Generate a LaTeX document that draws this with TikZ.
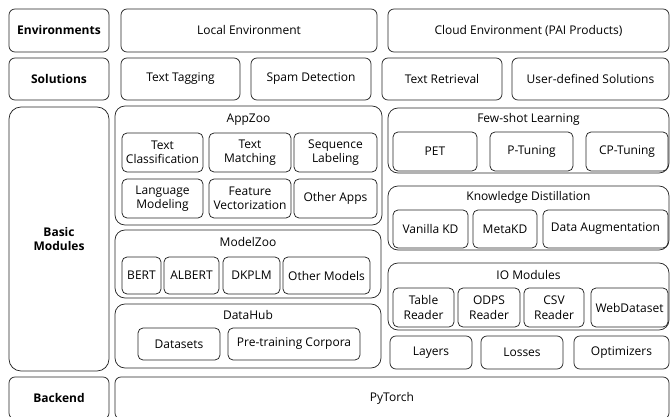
\documentclass[tikz,border=0pt]{standalone}
\usepackage{fontspec}
\setmainfont{Open Sans}
\newcommand\fs{\fontsize{12}{14.5}\selectfont}
\tikzset{
  box/.style={draw=black!85, line width=0.75pt, rounded corners=6pt, inner sep=0pt, align=center, font=\fs},
  inbox/.style={box, rounded corners=5pt},
  grp/.style={box, rounded corners=10pt},
  hdr/.style={box, font=\fs\bfseries},
  lbl/.style={font=\fs, inner sep=0pt},
}
% \bx[style]{name}{x1}{y1}{x2}{y2}{text}
\newcommand\bx[7][box]{%
  \pgfmathsetmacro\bxw{#5-#3}\pgfmathsetmacro\bxh{#6-#4}%
  \pgfmathsetmacro\bxcx{(#3+#5)/2}\pgfmathsetmacro\bxcy{(#4+#6)/2}%
  \node[#1, minimum width=\bxw pt, minimum height=\bxh pt] (#2) at (\bxcx,\bxcy) {#7};}
\begin{document}
\begin{tikzpicture}[x=1pt,y=-1pt]
\useasboundingbox (0,0) rectangle (670,417);
% rows
\bx[hdr]{env}{9}{9}{109}{52}{Environments}
\bx{local}{121}{9}{377}{52}{Local Environment}
\bx{cloud}{388}{9}{669}{52}{Cloud Environment (PAI Products)}
\bx[hdr]{sol}{9}{58}{109}{100}{Solutions}
\bx{tag}{121}{58}{240}{100}{Text Tagging}
\bx{spam}{251}{58}{371}{100}{Spam Detection}
\bx{retr}{382}{58}{502}{100}{Text Retrieval}
\bx{user}{512}{58}{669}{100}{User-defined Solutions}
\bx[hdr, rounded corners=12pt]{basic}{9}{107}{109}{371}{Basic\\Modules}
% AppZoo
\bx[grp]{appzoo}{115}{106}{382}{225}{}
\node[lbl] (appzoolbl) at (248.5,120) {AppZoo};
\bx[inbox]{tc}{122}{133}{203}{172}{Text\\Classification}
\bx[inbox]{tm}{209}{133}{291}{172}{Text\\Matching}
\bx[inbox]{sl}{294}{133}{377}{172}{Sequence\\Labeling}
\bx[inbox]{lm}{122}{179}{203}{218}{Language\\Modeling}
\bx[inbox]{fv}{209}{179}{291}{218}{Feature\\Vectorization}
\bx[inbox]{oa}{294}{179}{377}{218}{Other Apps}
% ModelZoo
\bx[grp]{modelzoo}{115}{230}{381}{298}{}
\node[lbl] (modelzoolbl) at (248,242) {ModelZoo};
\bx[inbox]{bert}{122}{257}{161}{294}{BERT}
\bx[inbox]{albert}{164}{257}{219}{294}{ALBERT}
\bx[inbox]{dkplm}{223}{257}{280}{294}{DKPLM}
\bx[inbox]{om}{283}{257}{370}{294}{Other Models}
% DataHub
\bx[grp]{datahub}{115}{304}{381}{368}{}
\node[lbl] (datahublbl) at (248,315) {DataHub};
\bx[inbox]{datasets}{138}{328}{220}{360}{Datasets}
\bx[inbox]{corpora}{228}{328}{360}{360}{Pre-training Corpora}
% Few-shot
\bx[grp]{few}{388}{108}{669}{173}{}
\node[lbl] (fewlbl) at (528.5,119) {Few-shot Learning};
\bx[inbox]{pet}{393}{132}{477}{171}{PET}
\bx[inbox]{ptun}{490}{132}{573}{171}{P-Tuning}
\bx[inbox]{cptun}{586}{132}{668}{171}{CP-Tuning}
% Knowledge Distillation
\bx[grp]{kd}{388}{186}{669}{250}{}
\node[lbl] (kdlbl) at (528.5,197) {Knowledge Distillation};
\bx[inbox]{vkd}{393}{210}{468}{248}{Vanilla KD}
\bx[inbox]{mkd}{473}{210}{537}{248}{MetaKD}
\bx[inbox]{da}{543}{210}{668}{248}{Data Augmentation}
% IO Modules
\bx[grp]{io}{388}{263}{669}{330}{}
\node[lbl] (iolbl) at (528.5,275) {IO Modules};
\bx[inbox]{tr}{393}{288}{454}{327}{Table\\Reader}
\bx[inbox]{odps}{458}{288}{520}{327}{ODPS\\Reader}
\bx[inbox]{csv}{524}{288}{584}{327}{CSV\\Reader}
\bx[inbox]{web}{591}{288}{668}{327}{WebDataset}
% Layers etc
\bx{layers}{390}{336}{472}{369}{Layers}
\bx{losses}{481}{336}{563}{369}{Losses}
\bx{opt}{574}{336}{669}{369}{Optimizers}
% Backend
\bx[hdr]{backend}{9}{377}{109}{419}{Backend}
\bx{pytorch}{115}{377}{669}{419}{PyTorch}
\end{tikzpicture}
\end{document}
